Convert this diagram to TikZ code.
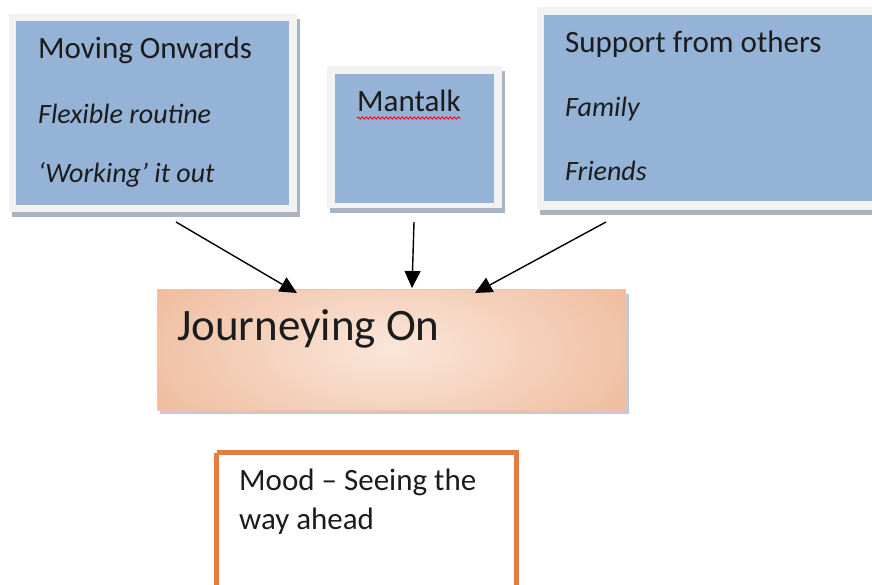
\documentclass[tikz,border=0pt]{standalone}
\usepackage{fontspec}
\setmainfont{Carlito}
\usetikzlibrary{arrows.meta,decorations.pathmorphing,shadows}
\definecolor{boxblue}{HTML}{95B3D7}
\definecolor{framegray}{HTML}{F2F2F2}
\definecolor{shadowgray}{HTML}{A9B4C2}
\definecolor{peachdark}{HTML}{EDB392}
\definecolor{peachlight}{HTML}{FAE6DA}
\definecolor{moodorange}{HTML}{E07E45}
\definecolor{inkgray}{HTML}{1C1C1C}
\tikzset{
  framebox/.style={fill=framegray, draw=none, drop shadow={shadow xshift=3pt, shadow yshift=-5pt, fill=shadowgray, opacity=1}},
  bluebox/.style={fill=boxblue, draw=none},
  head/.style={anchor=base west, font=\fontsize{31}{36}\selectfont, text=inkgray, inner sep=0pt},
  sub/.style={anchor=base west, font=\fontsize{28}{32}\selectfont\itshape, text=inkgray, inner sep=0pt},
  link/.style={-{Triangle[length=17pt,width=16pt]}, line width=1.4pt, black},
}
\begin{document}
\begin{tikzpicture}[x=1pt,y=-1pt]
\useasboundingbox (0,0) rectangle (872,585);

% --- Moving Onwards
\path[framebox] (9,14) rectangle (297,212);
\path[bluebox] (16,21) rectangle (289,205);
\node[head] (mo) at (38,59) {Moving Onwards};
\node[sub] (fr) at (38,124) {Flexible routine};
\node[sub] (wo) at (38,183) {‘Working’ it out};
\coordinate (moS) at (176,222);

% --- Mantalk
\path[framebox] (327,66) rectangle (502,208);
\path[bluebox] (335,74) rectangle (494,203);
\node[head] (mt) at (357,112) {Mantalk};
\draw[red, line width=0.9pt, decorate, decoration={snake, amplitude=1.1pt, segment length=4pt}]
  ([yshift=-6pt]mt.base west) -- ([yshift=-6pt]mt.base east);
\coordinate (mtS) at (414,222);

% --- Support from others
\path[framebox] (537,7) rectangle (890,210);
\path[bluebox] (544,15) rectangle (880,201);
\node[head] (sf) at (565,53) {Support from others};
\node[sub] (fa) at (565,117) {Family};
\node[sub] (fn) at (565,181) {Friends};
\coordinate (sfS) at (606,222);

% --- Journeying On
\fill[shadowgray!70] (160,294) rectangle (629,414);
\begin{scope}
  \clip (157,289) rectangle (625,410);
  \shade[inner color=peachlight, outer color=peachdark] (391,349) ellipse (330 and 150);
\end{scope}
\draw[peachdark!80!white, line width=0.6pt] (157,289) rectangle (625,410);
\node[anchor=base west, font=\fontsize{45}{52}\selectfont, text=inkgray, inner sep=0pt] (jo) at (177,340) {Journeying On};
\coordinate (joA) at (297,293);
\coordinate (joB) at (412,288);
\coordinate (joC) at (475,293);

% --- Mood
\draw[moodorange, line width=5.5pt] (216.5,452.5) -- (516.5,452.5) -- (516.5,600);
\draw[moodorange, line width=5.5pt] (216.5,452.5) -- (216.5,600);
\node[anchor=base west, font=\fontsize{31}{36}\selectfont, text=inkgray, inner sep=0pt] (md) at (239,490) {Mood – Seeing the};
\node[anchor=base west, font=\fontsize{31}{36}\selectfont, text=inkgray, inner sep=0pt] (md2) at (239,529) {way ahead};

% --- connectors
\draw[link] (moS) -- (joA);
\draw[link] (mtS) -- (joB);
\draw[link] (sfS) -- (joC);
\end{tikzpicture}
\end{document}
